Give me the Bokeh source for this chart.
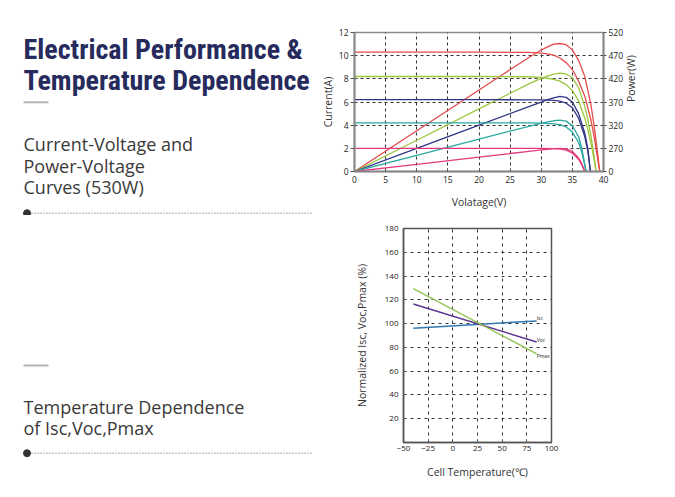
import math
from bokeh.plotting import figure
from bokeh.layouts import row, column
from bokeh.models import Range1d, LinearAxis, FixedTicker
from bokeh.core.properties import value
from bokeh.embed import file_html
from bokeh.resources import INLINE

# ---------------- I-V and P-V curves (530W module) ----------------
# current in A (left axis); power curves drawn on the same left scale
red_iv_v = [0, 10, 20, 28, 30, 31, 32, 33, 34, 35, 36, 37, 38, 38.5, 39, 39.4]
red_iv_i = [10.3, 10.3, 10.3, 10.28, 10.22, 10.15, 10.05, 9.8, 9.4, 8.8, 7.8, 6.5, 4.4, 3.0, 1.3, 0]
red_pv_v = [0, 10, 20, 28, 30, 31, 32, 33, 34, 35, 36, 37, 38, 38.5, 39, 39.4]
red_pv_p = [0, 3.52, 7.04, 9.84, 10.49, 10.76, 11.0, 11.05, 10.95, 10.5, 9.6, 8.2, 5.7, 3.9, 1.8, 0]

grn_iv_v = [0, 10, 20, 28, 30, 31, 32, 33, 34, 35, 36, 37, 37.5, 38, 38.5, 38.8]
grn_iv_i = [8.2, 8.2, 8.2, 8.18, 8.12, 8.05, 7.95, 7.8, 7.5, 7.0, 6.1, 4.6, 3.6, 2.4, 1.0, 0]
grn_pv_v = [0, 10, 20, 28, 30, 31, 32, 33, 34, 35, 36, 37, 37.5, 38, 38.5, 38.8]
grn_pv_p = [0, 2.7, 5.4, 7.56, 8.04, 8.23, 8.4, 8.49, 8.42, 8.09, 7.25, 5.6, 4.45, 3.0, 1.27, 0]

nav_iv_v = [0, 10, 20, 28, 30, 32, 33, 34, 35, 36, 37, 37.5, 37.9]
nav_iv_i = [6.2, 6.2, 6.2, 6.19, 6.18, 6.14, 6.08, 5.9, 5.5, 4.6, 3.0, 1.7, 0]
nav_pv_v = [0, 10, 20, 28, 30, 31, 32, 33, 34, 35, 36, 37, 37.5, 37.9]
nav_pv_p = [0, 2.0, 4.0, 5.6, 5.99, 6.2, 6.35, 6.48, 6.4, 6.0, 5.0, 3.3, 1.9, 0]

tea_iv_v = [0, 10, 20, 28, 30, 32, 33, 34, 35, 36, 36.5, 37, 37.2]
tea_iv_i = [4.2, 4.2, 4.2, 4.19, 4.18, 4.12, 4.05, 3.85, 3.4, 2.5, 1.7, 0.5, 0]
tea_pv_v = [0, 10, 20, 28, 30, 31, 32, 33, 34, 35, 36, 36.5, 37, 37.2]
tea_pv_p = [0, 1.4, 2.8, 3.9, 4.15, 4.28, 4.38, 4.44, 4.35, 3.95, 3.0, 2.05, 0.6, 0]

pnk_iv_v = [0, 10, 20, 28, 30, 32, 33, 34, 35, 36, 36.5, 37]
pnk_iv_i = [2.0, 2.0, 2.0, 2.0, 2.0, 1.98, 1.95, 1.85, 1.6, 1.05, 0.6, 0]
pnk_pv_v = [0, 10, 20, 28, 30, 31, 32, 33, 34, 35, 36, 36.5, 37]
pnk_pv_p = [0, 0.62, 1.24, 1.74, 1.86, 1.92, 1.97, 2.0, 1.95, 1.74, 1.17, 0.68, 0]

volt_ticks = [0, 5, 10, 15, 20, 25, 30, 35, 40]
curr_ticks = [0, 2, 4, 6, 8, 10, 12]
power_labels = ["0", "270", "320", "370", "420", "470", "520"]

# ---------------- Temperature dependence ----------------
cell_temp = [-40, 85]
isc_pct = [96.0, 102.3]
voc_pct = [116.5, 84.5]
pmax_pct = [129.5, 74.5]
series_names = ["Isc", "Voc", "Pmax"]
series_label_y = [104.5, 86.0, 72.5]
temp_ticks = [-50, -25, 0, 25, 50, 75, 100]
pct_ticks = [20, 40, 60, 80, 100, 120, 140, 160, 180]

RED, GRN, NAV, TEA, PNK = "#e44b4b", "#9cc63f", "#2f3486", "#2ba6a1", "#e2387d"
TICK_FONT = "Open Sans"
BODY_FONT = value("Open Sans")
TITLE_FONT = value("'Noto Sans Condensed', 'Noto Sans SemiCondensed', 'Roboto Condensed', "
                   "'Liberation Sans Narrow', 'DejaVu Sans Condensed', 'Noto Sans', sans-serif")
W_L = 312
W_R = 363
H_TOP, H_BOT = 215, 282


def text_panel(height):
    p = figure(width=W_L, height=height, x_range=Range1d(0, W_L), y_range=Range1d(height, 0),
               output_backend="svg", toolbar_location=None, min_border=0,
               x_axis_location=None, y_axis_location=None)
    p.grid.visible = False
    p.outline_line_color = None
    return p


# ---------------- Left text panels ----------------
pl1 = text_panel(H_TOP)
pl1.text(x=[23, 23], y=[48.5, 80.0], text=["Electrical Performance &", "Temperature Dependence"],
         text_font=TITLE_FONT, text_font_style="bold", text_font_size="28px",
         text_color="#262a5c", text_baseline="alphabetic")
pl1.text(x=[23, 23, 23], y=[143.3, 165.0, 186.7],
         text=["Current-Voltage and", "Power-Voltage", "Curves (530W)"],
         text_font=BODY_FONT, text_font_size="18px", text_color="#3a3a3a",
         text_baseline="alphabetic")
pl1.line(x=[23, 48], y=[101.7, 101.7], line_color="#b4b4b4", line_width=2)
pl1.line(x=[28, W_L], y=[212.7, 212.7], line_color="#555555", line_width=1, line_dash="1 2")
pl1.scatter(x=[26.5], y=[212.7], size=7, color="#333333")

pl2 = text_panel(H_BOT)
pl2.text(x=[23, 23], y=[191.0, 212.3],
         text=["Temperature Dependence", "of Isc,Voc,Pmax"],
         text_font=BODY_FONT, text_font_size="18px", text_color="#3a3a3a",
         text_baseline="alphabetic")
pl2.line(x=[23, 48], y=[150.0, 150.0], line_color="#b4b4b4", line_width=2)
pl2.line(x=[28, W_L], y=[237.7, 237.7], line_color="#555555", line_width=1, line_dash="1 2")
pl2.scatter(x=[26.5], y=[237.7], size=7, color="#333333")

# ---------------- Top chart: I-V / P-V ----------------
p1 = figure(width=W_R, height=H_TOP, x_range=Range1d(0, 40), y_range=Range1d(0, 12),
            output_backend="svg", toolbar_location=None,
            min_border_left=42, min_border_right=72, min_border_top=32, min_border_bottom=44)
p1.outline_line_color = "#8a8a8a"
p1.outline_line_width = 1.5
p1.xaxis.ticker = FixedTicker(ticks=volt_ticks)
p1.yaxis.ticker = FixedTicker(ticks=curr_ticks)
p1.xaxis.axis_label = "Volatage(V)"
p1.yaxis.axis_label = "Current(A)"
p1.extra_y_ranges = {"pw": Range1d(0, 12)}
rax = LinearAxis(y_range_name="pw", ticker=FixedTicker(ticks=curr_ticks),
                 major_label_overrides={t: lab for t, lab in zip(curr_ticks, power_labels)},
                 axis_label="Power(W)")
p1.add_layout(rax, "right")
for ax in (p1.xaxis[0], p1.yaxis[0], rax):
    ax.axis_line_color = "#8a8a8a"
    ax.axis_line_width = 2
    ax.major_tick_line_color = "#555555"
    ax.minor_tick_line_color = None
    ax.major_label_text_font = TICK_FONT
    ax.major_label_text_font_size = "8.5px"
    ax.major_label_text_color = "#222222"
    ax.axis_label_text_font = TICK_FONT
    ax.axis_label_text_font_size = "10.5px"
    ax.axis_label_text_font_style = "normal"
    ax.axis_label_text_color = "#333333"
p1.yaxis[0].major_tick_out = 4
p1.yaxis[0].major_tick_in = 0
p1.yaxis[0].major_label_standoff = 2
p1.yaxis[0].axis_label_standoff = 1
rax.major_tick_out = 3
rax.major_tick_in = 0
rax.major_label_standoff = 2
rax.axis_label_standoff = 5
rax.axis_label_orientation = math.pi / 2
p1.xaxis[0].major_tick_out = 0
p1.xaxis[0].major_tick_in = 3
p1.xaxis[0].major_label_standoff = 4
p1.xaxis[0].axis_label_standoff = 9
p1.grid.grid_line_color = "#333333"
p1.grid.grid_line_dash = "3 3"
p1.grid.grid_line_width = 1

for (vx, vy, col) in [
    (red_iv_v, red_iv_i, RED), (red_pv_v, red_pv_p, RED),
    (grn_iv_v, grn_iv_i, GRN), (grn_pv_v, grn_pv_p, GRN),
    (nav_iv_v, nav_iv_i, NAV), (nav_pv_v, nav_pv_p, NAV),
    (tea_iv_v, tea_iv_i, TEA), (tea_pv_v, tea_pv_p, TEA),
    (pnk_iv_v, pnk_iv_i, PNK), (pnk_pv_v, pnk_pv_p, PNK),
]:
    p1.line(vx, vy, line_color=col, line_width=1.3)

# ---------------- Bottom chart: temperature dependence ----------------
p2 = figure(width=W_R, height=H_BOT, x_range=Range1d(-50, 100), y_range=Range1d(0, 180),
            output_backend="svg", toolbar_location=None,
            min_border_left=91, min_border_right=124, min_border_top=13, min_border_bottom=55)
p2.outline_line_color = "#555555"
p2.outline_line_width = 1.5
p2.xaxis.ticker = FixedTicker(ticks=temp_ticks)
p2.yaxis.ticker = FixedTicker(ticks=pct_ticks)
p2.xaxis.axis_label = "Cell Temperature(\u2103)"
p2.yaxis.axis_label = "Normalized Isc, Voc,Pmax (%)"
for ax in (p2.xaxis[0], p2.yaxis[0]):
    ax.axis_line_color = "#555555"
    ax.axis_line_width = 1.5
    ax.major_tick_line_color = "#555555"
    ax.minor_tick_line_color = None
    ax.major_tick_out = 0
    ax.major_tick_in = 3
    ax.major_label_text_font = TICK_FONT
    ax.major_label_text_font_size = "8px"
    ax.major_label_text_color = "#222222"
    ax.axis_label_text_font = TICK_FONT
    ax.axis_label_text_font_size = "10.5px"
    ax.axis_label_text_font_style = "normal"
    ax.axis_label_text_color = "#333333"
p2.xaxis[0].major_label_standoff = 3
p2.xaxis[0].axis_label_standoff = 11
p2.yaxis[0].major_label_standoff = 5
p2.yaxis[0].axis_label_standoff = 13
p2.grid.grid_line_color = "#333333"
p2.grid.grid_line_dash = "3 4"
p2.grid.grid_line_width = 1

p2.line(cell_temp, isc_pct, line_color="#2f78b2", line_width=1.5)
p2.line(cell_temp, voc_pct, line_color="#5e3590", line_width=1.5)
p2.line(cell_temp, pmax_pct, line_color="#94c456", line_width=1.5)
p2.text(x=[cell_temp[1]] * 3, y=series_label_y, text=series_names,
        text_font=value(TICK_FONT), text_font_size="5px", text_color="#222222",
        text_baseline="middle", text_align="left")

# each plot wrapped in its own column so the layout does not align plot frames
layout = column(row(column(pl1), column(p1), spacing=0),
                row(column(pl2), column(p2), spacing=0), spacing=0)
open("out.html", "w").write(file_html(layout, INLINE))
